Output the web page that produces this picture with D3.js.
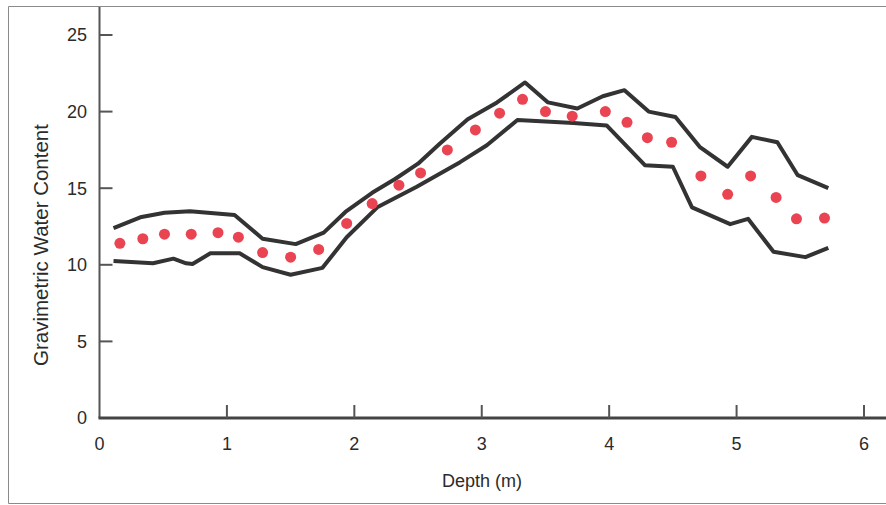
<html>
<style>
    body { margin: 0px; background: #fff; }
    text { font-family: "Liberation Sans", Arial, sans-serif; }
</style>
<body>
<svg id="viz"></svg>
</body>
<script src="https://d3js.org/d3.v7.min.js"></script>
<script>
// depth (m) / gravimetric water content
var dotDepth = [0.16, 0.34, 0.51, 0.72, 0.93, 1.09, 1.28, 1.50, 1.72, 1.94, 2.14, 2.35, 2.52, 2.73, 2.95,
                3.14, 3.32, 3.50, 3.71, 3.97, 4.14, 4.30, 4.49, 4.72, 4.93, 5.11, 5.31, 5.47, 5.69];
var dotWater = [11.4, 11.7, 12.0, 12.0, 12.1, 11.8, 10.8, 10.5, 11.0, 12.7, 14.0, 15.2, 16.0, 17.5, 18.8,
                19.9, 20.8, 20.0, 19.7, 20.0, 19.3, 18.3, 18.0, 15.8, 14.6, 15.8, 14.4, 13.0, 13.05];

var upperDepth = [0.11, 0.32, 0.51, 0.71, 1.06, 1.28, 1.54, 1.76, 1.93, 2.14, 2.32, 2.50, 2.67, 2.89,
                  3.12, 3.34, 3.52, 3.75, 3.95, 4.12, 4.31, 4.52, 4.71, 4.93, 5.12, 5.32, 5.48, 5.72];
var upperWater = [12.4, 13.1, 13.4, 13.5, 13.25, 11.7, 11.35, 12.1, 13.45, 14.7, 15.6, 16.6, 17.9, 19.5,
                  20.6, 21.9, 20.6, 20.2, 21.0, 21.4, 20.0, 19.65, 17.7, 16.4, 18.35, 18.0, 15.85, 15.0];

var lowerDepth = [0.11, 0.42, 0.58, 0.68, 0.73, 0.87, 1.10, 1.28, 1.50, 1.75, 1.94, 2.18, 2.49, 2.83,
                  3.04, 3.28, 3.72, 3.98, 4.28, 4.50, 4.65, 4.95, 5.09, 5.29, 5.54, 5.72];
var lowerWater = [10.25, 10.1, 10.4, 10.1, 10.05, 10.75, 10.75, 9.85, 9.35, 9.8, 11.8, 13.75, 15.1, 16.7,
                  17.8, 19.45, 19.25, 19.1, 16.5, 16.4, 13.75, 12.65, 13.0, 10.85, 10.5, 11.1];

var xTicks = [0, 1, 2, 3, 4, 5, 6];
var yTicks = [0, 5, 10, 15, 20, 25];

var width = 886, height = 505;
var svg = d3.select("#viz").attr("width", width).attr("height", height);

// outer frame (left, top, bottom only - right edge is cut off)
svg.append("path")
    .attr("d", "M886,6.5H8.5V503.5H886")
    .attr("fill", "none")
    .attr("stroke", "#8a8a8a")
    .attr("stroke-width", 1);

var x = d3.scaleLinear().domain([0, 6]).range([99.5, 864]);
var y = d3.scaleLinear().domain([0, 25]).range([418, 35]);

// y axis
svg.append("line")
    .attr("x1", x(0)).attr("x2", x(0))
    .attr("y1", 7).attr("y2", y(0))
    .attr("stroke", "#555").attr("stroke-width", 2);

var yt = svg.append("g").selectAll("g").data(yTicks).enter().append("g");
yt.filter(function(d) { return d > 0; }).append("line")
    .attr("x1", x(0)).attr("x2", x(0) + 13)
    .attr("y1", function(d) { return y(d); })
    .attr("y2", function(d) { return y(d); })
    .attr("stroke", "#555").attr("stroke-width", 2);
yt.append("text")
    .attr("x", 87)
    .attr("y", function(d) { return y(d); })
    .attr("dy", "0.36em")
    .attr("text-anchor", "end")
    .style("font-size", "18px")
    .style("fill", "#2b2b2b")
    .text(function(d) { return d; });

// x axis
svg.append("line")
    .attr("x1", x(0) - 1).attr("x2", 886)
    .attr("y1", y(0)).attr("y2", y(0))
    .attr("stroke", "#444").attr("stroke-width", 3);

var xt = svg.append("g").selectAll("g").data(xTicks).enter().append("g");
xt.filter(function(d) { return d > 0; }).append("line")
    .attr("x1", function(d) { return x(d); })
    .attr("x2", function(d) { return x(d); })
    .attr("y1", y(0)).attr("y2", y(0) - 13)
    .attr("stroke", "#555").attr("stroke-width", 2);
xt.append("text")
    .attr("x", function(d) { return x(d); })
    .attr("y", 450)
    .attr("text-anchor", "middle")
    .style("font-size", "18px")
    .style("fill", "#2b2b2b")
    .text(function(d) { return d; });

// axis titles
svg.append("text")
    .attr("x", 482).attr("y", 487)
    .attr("text-anchor", "middle")
    .style("font-size", "18px")
    .style("fill", "#2b2b2b")
    .text("Depth (m)");

svg.append("text")
    .attr("transform", "translate(48,245) rotate(-90)")
    .attr("text-anchor", "middle")
    .style("font-size", "20.5px")
    .style("fill", "#2b2b2b")
    .text("Gravimetric Water Content");

// envelope lines
var line = d3.line()
    .x(function(d) { return x(d[0]); })
    .y(function(d) { return y(d[1]); });

[[upperDepth, upperWater], [lowerDepth, lowerWater]].forEach(function(s) {
    svg.append("path")
        .datum(d3.zip(s[0], s[1]))
        .attr("d", line)
        .attr("fill", "none")
        .attr("stroke", "#333")
        .attr("stroke-width", 4)
        .attr("stroke-linejoin", "round")
        .attr("stroke-linecap", "butt");
});

// mean points
svg.append("g").selectAll("circle")
    .data(d3.zip(dotDepth, dotWater))
    .enter().append("circle")
    .attr("cx", function(d) { return x(d[0]); })
    .attr("cy", function(d) { return y(d[1]); })
    .attr("r", 5.5)
    .attr("fill", "#ea4452");
</script>
</html>
